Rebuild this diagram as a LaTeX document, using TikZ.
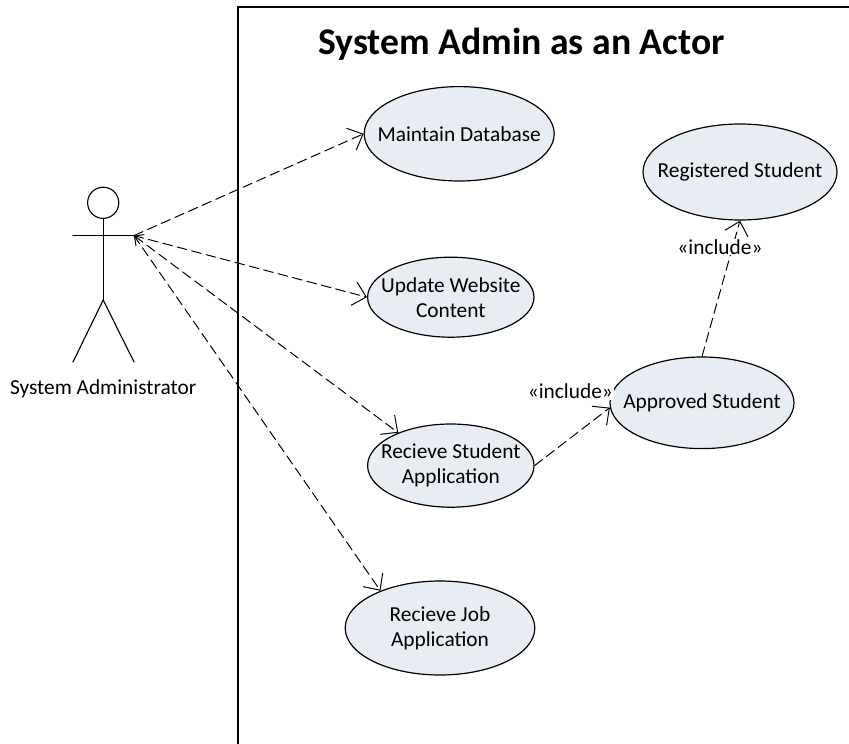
\documentclass[tikz,border=0pt]{standalone}
\usepackage{fontspec}
\setmainfont{Carlito}
\usepackage{tkz-euclide}
\usetikzlibrary{calc}
\usetikzlibrary{arrows.meta}
\usetikzlibrary{shapes.geometric}
\definecolor{casefill}{HTML}{E8EDF4}
\tikzset{
  usecase/.style={ellipse,draw=black,line width=0.85pt,fill=casefill,inner xsep=-0.8cm,inner ysep=-0.2cm,align=center,font=\fontsize{15.2}{17.8}\selectfont},
  depend/.style={line width=0.7pt,dash pattern=on 7pt off 3.6pt,-{Straight Barb[length=9pt,width=17pt,line width=0.7pt]}},
  dependboth/.style={depend,{Straight Barb[length=5pt,width=10pt,line width=0.7pt]}-{Straight Barb[length=9pt,width=17pt,line width=0.7pt]}},
  tag/.style={font=\fontsize{15.2}{18}\selectfont,inner sep=0.5pt},
  actorline/.style={line width=0.8pt},
}
\begin{document}
\begin{tikzpicture}
                    \useasboundingbox (0,0) rectangle (21.225,-18.6);

                    \tkzDefPoint(5.96,-18.6){A}
                    \tkzDefPoint(5.96,-0.17){B}
                    \tkzDefPoint(21.225,-0.17){C}

                    \tkzDrawSegment[line width=1.4pt](A,B)
                    \tkzDrawSegment[line width=1.4pt](B,C)

                    \node[font=\fontsize{26.8}{30}\selectfont\bfseries] (title) at (13.04,-1.1) {System Admin as an Actor};

                    \node[usecase,minimum width=4.75cm,minimum height=2.36cm] (maintain) at (11.48,-3.345) {Maintain Database};
                    \node[usecase,minimum width=4.85cm,minimum height=2.4cm] (registered) at (18.5,-4.3) {Registered Student};
                    \node[usecase,minimum width=4.16cm,minimum height=2.0cm] (website) at (11.27,-7.43) {Update Website\\Content};
                    \node[usecase,minimum width=4.16cm,minimum height=2.08cm] (application) at (11.27,-11.64) {Recieve Student\\Application};
                    \node[usecase,minimum width=4.6cm,minimum height=2.29cm] (approved) at (17.55,-10.07) {Approved Student};
                    \node[usecase,minimum width=4.74cm,minimum height=2.35cm] (job) at (11.0,-15.7) {Recieve Job\\Application};

                    \tkzDefPoint(2.58,-5.07){H}
                    \tkzDefPoint(2.58,-5.46){N}
                    \tkzDefPoint(2.58,-7.5){W}
                    \tkzDefPoint(1.825,-5.89){L}
                    \tkzDefPoint(3.35,-5.89){R}
                    \tkzDefPoint(1.825,-9.05){P}
                    \tkzDefPoint(3.35,-9.05){Q}

                    \draw[actorline] (H) circle (0.39);
                    \tkzDrawSegment[actorline](N,W)
                    \tkzDrawSegment[actorline](L,R)
                    \tkzDrawSegment[actorline](W,P)
                    \tkzDrawSegment[actorline](W,Q)

                    \node[font=\fontsize{15.2}{18}\selectfont] (actor) at (2.58,-9.72) {System Administrator};

                    \tkzDrawSegment[depend](R,maintain.west)
                    \tkzDrawSegment[depend](R,website.west)
                    \tkzDrawSegment[dependboth](R,application.148)
                    \tkzDrawSegment[depend](R,job.148)

                    \tkzDrawSegment[depend](application.east,approved.183)
                    \tkzDrawSegment[depend](approved.north,registered.south)

                    \node[tag,fill=white] (tagleft) at (14.26,-9.79) {«include»};
                    \node[tag,fill=white] (tagtop) at (18.0,-6.17) {«include»};
                \end{tikzpicture}
\end{document}
